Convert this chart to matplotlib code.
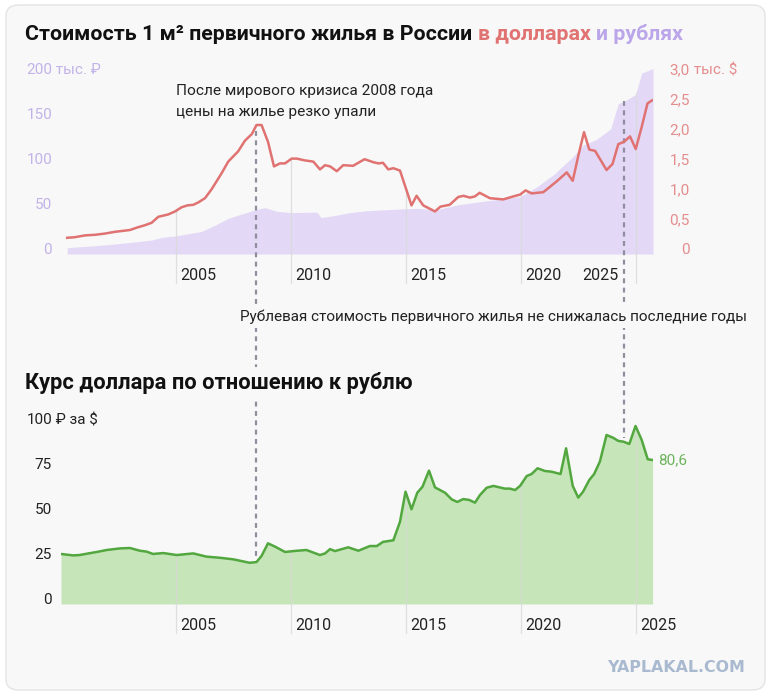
import matplotlib
matplotlib.use("Agg")
import matplotlib.pyplot as plt
import numpy as np
from matplotlib.patches import FancyBboxPatch
from matplotlib.lines import Line2D
from matplotlib.transforms import blended_transform_factory as blend

# ---------------- data ----------------
usd_years = [2000.27, 2000.6, 2001.04, 2001.48, 2001.9, 2002.35, 2003.0, 2003.3, 2003.65, 2003.94,
             2004.23, 2004.67, 2004.96, 2005.25, 2005.5, 2005.75, 2005.97, 2006.26, 2006.55, 2006.99,
             2007.27, 2007.7, 2008.0, 2008.3, 2008.5, 2008.72, 2009.0, 2009.26, 2009.52, 2009.74,
             2010.03, 2010.25, 2010.6, 2010.97, 2011.26, 2011.48, 2011.7, 2011.99, 2012.27, 2012.7,
             2013.2, 2013.58, 2013.8, 2014.0, 2014.23, 2014.45, 2014.74, 2015.24, 2015.46, 2015.75,
             2016.26, 2016.5, 2016.9, 2017.27, 2017.5, 2017.78, 2018.0, 2018.2, 2018.65, 2019.23,
             2019.67, 2019.96, 2020.2, 2020.46, 2020.97, 2021.55, 2021.99, 2022.25, 2022.5, 2022.74,
             2022.97, 2023.22, 2023.72, 2023.98, 2024.23, 2024.48, 2024.74, 2024.99, 2025.25, 2025.5,
             2025.7]
usd_price = [0.27, 0.28, 0.31, 0.32, 0.34, 0.37, 0.40, 0.44, 0.48, 0.52,
             0.62, 0.66, 0.71, 0.78, 0.81, 0.82, 0.86, 0.93, 1.08, 1.35,
             1.54, 1.71, 1.89, 2.00, 2.15, 2.15, 1.87, 1.46, 1.51, 1.51,
             1.59, 1.59, 1.56, 1.54, 1.41, 1.48, 1.46, 1.38, 1.48, 1.47,
             1.58, 1.53, 1.51, 1.52, 1.41, 1.43, 1.39, 0.81, 0.97, 0.81,
             0.71, 0.79, 0.82, 0.95, 0.97, 0.94, 0.96, 1.02, 0.93, 0.91,
             0.96, 0.99, 1.06, 1.01, 1.03, 1.21, 1.36, 1.22, 1.65, 2.03,
             1.74, 1.72, 1.40, 1.50, 1.83, 1.87, 1.96, 1.75, 2.12, 2.51,
             2.56]

rub_years = [2000.27, 2001.9, 2003.07, 2003.94, 2004.4, 2004.96, 2006.1, 2006.7, 2007.27, 2007.86,
             2008.58, 2008.87, 2009.38, 2010.0, 2011.0, 2011.13, 2011.3, 2011.85, 2012.57, 2013.29,
             2014.74, 2015.46, 2016.33, 2017.2, 2018.2, 2019.96, 2020.7, 2021.4, 2022.26, 2022.7,
             2023.27, 2023.9, 2024.23, 2024.5, 2024.98, 2025.25, 2025.74]
rub_price = [7, 10, 13, 15.5, 18.5, 20, 25, 32, 39.5, 44.5,
             50, 51.5, 47.5, 46, 46.5, 46.5, 40.5, 42.5, 46, 48,
             50, 50.7, 49, 54.4, 58, 63.7, 74.8, 87.8, 108, 121,
             127, 139, 167, 170, 177, 201, 206]

fx_years = [2000.0, 2000.53, 2000.8, 2001.55, 2001.99, 2002.57, 2003.0, 2003.43, 2003.72, 2004.0,
            2004.45, 2005.03, 2005.75, 2006.33, 2006.9, 2007.5, 2008.2, 2008.5, 2008.72, 2009.0,
            2009.3, 2009.45, 2009.74, 2010.1, 2010.67, 2011.26, 2011.48, 2011.7, 2011.91, 2012.49,
            2012.93, 2013.43, 2013.73, 2014.0, 2014.45, 2014.74, 2014.98, 2015.24, 2015.49, 2015.72,
            2016.0, 2016.26, 2016.7, 2016.99, 2017.23, 2017.49, 2017.75, 2018.0, 2018.22, 2018.51,
            2018.8, 2019.3, 2019.52, 2019.74, 2019.96, 2020.25, 2020.46, 2020.72, 2021.04, 2021.33,
            2021.72, 2021.96, 2022.25, 2022.49, 2022.7, 2022.97, 2023.18, 2023.43, 2023.72, 2024.0,
            2024.23, 2024.45, 2024.71, 2024.98, 2025.25, 2025.51, 2025.72]
fx_rate = [27.8, 27.0, 27.2, 28.9, 30.0, 30.9, 31.1, 29.6, 29.1, 27.8,
           28.3, 27.2, 28.1, 26.3, 25.7, 24.8, 22.9, 23.3, 26.7, 33.7,
           31.9, 30.9, 28.9, 29.4, 30.0, 27.2, 28.1, 30.5, 29.4, 31.5,
           29.6, 32.2, 32.2, 34.5, 35.4, 45.7, 62.4, 52.6, 61.8, 65.2,
           74.1, 64.8, 61.8, 58.1, 56.7, 58.3, 57.8, 56.3, 60.6, 64.6,
           65.6, 64.1, 64.1, 63.3, 65.6, 71.1, 72.2, 75.4, 73.9, 73.5,
           72.2, 86.5, 65.6, 59.1, 62.4, 68.9, 72.2, 79.1, 93.9, 92.4,
           90.6, 90.2, 88.9, 98.9, 91.1, 80.4, 80.0]

year_ticks = [2005, 2010, 2015, 2020, 2025]
usd_ticks = [0, 0.5, 1.0, 1.5, 2.0, 2.5, 3.0]
usd_tick_labels = ["0", "0,5", "1,0", "1,5", "2,0", "2,5", "3,0"]
rub_ticks = [0, 50, 100, 150, 200]
fx_ticks = [0, 25, 50, 75, 100]
last_rate_label = "80,6"
event_years = [2008.48, 2024.48]

# ---------------- style ----------------
W, H = 771, 695
BG = "#f8f8f8"
RED = "#e07272"
PURPLE_FILL = "#e3d8f6"
PURPLE_TXT = "#bba6ea"
PURPLE_TICK = "#c2b3e8"
RED_TICK = "#e58d8d"
GREEN = "#52a73f"
GREEN_FILL = "#c6e6ba"
GREEN_TXT = "#6db35b"
GRID = "#d9d9d9"
DASH = "#8e8e9c"
FONT = ["Roboto", "DejaVu Sans"]

plt.rcParams['font.family'] = FONT
fig = plt.figure(figsize=(W / 100, H / 100), dpi=100)
fig.patch.set_facecolor("white")
renderer = fig.canvas.get_renderer()


def fx(px):
    return px / W


def fy(py):
    return 1 - py / H


card = FancyBboxPatch((fx(6), fy(690)), fx(759), (689 - 4) / H,
                      boxstyle="round,pad=0,rounding_size=0.016",
                      transform=fig.transFigure, facecolor=BG, edgecolor="#e4e4e4",
                      linewidth=1.0, zorder=-5)
fig.patches.append(card)


def width_of(t):
    return t.get_window_extent(renderer=renderer).width


def fit(t, target):
    t.set_fontsize(t.get_fontsize() * target / width_of(t))
    return t


# ---------------- axes ----------------
XL = (2000.0, 2025.74)
ax1 = fig.add_axes([fx(61), fy(254), fx(653 - 61), (254 - 68) / H])
ax1r = ax1.twinx()
ax2 = fig.add_axes([fx(61), fy(604), fx(653 - 61), (604 - 420) / H])
for a in (ax1, ax1r, ax2):
    a.set_xlim(*XL)
    a.patch.set_visible(False)
    for s in a.spines.values():
        s.set_visible(False)
    a.set_xticks([])
    a.set_yticks([])
usd_top = (254 - 68) / 60
ax1.set_ylim(0, usd_top)
ax1r.set_ylim(0, usd_top * 200 / 3)
ax2.set_ylim(0, (604 - 420) / 1.8)

ax1r.set_zorder(1)
ax1.set_zorder(2)
ax2.set_zorder(1)
ax1r.fill_between(rub_years, rub_price, 0, color=PURPLE_FILL, linewidth=0, zorder=1)
ax1.plot(usd_years, usd_price, color=RED, lw=1.8, solid_joinstyle="round", zorder=5)

ax2.fill_between(fx_years, fx_rate, 0, color=GREEN_FILL, linewidth=0, zorder=1)
ax2.plot(fx_years, fx_rate, color=GREEN, lw=1.8, solid_joinstyle="round", zorder=5)

inv = fig.transFigure.inverted()


def data_to_fig_y(ax, x, y):
    return inv.transform(ax.transData.transform((x, y)))[1]


# vertical grid lines from data down to labels
for yr in year_ticks:
    top_usd = np.interp(yr, usd_years, usd_price)
    top_rub_in_usd = np.interp(yr, rub_years, rub_price) * 3 / 200
    ytop = data_to_fig_y(ax1, yr, max(top_usd, top_rub_in_usd))
    ax1.add_line(Line2D([yr, yr], [ytop, fy(283)], transform=blend(ax1.transData, fig.transFigure),
                        color=GRID, lw=0.9, alpha=0.8, clip_on=False, zorder=3))
    ytop2 = data_to_fig_y(ax2, yr, np.interp(yr, fx_years, fx_rate))
    ax2.add_line(Line2D([yr, yr], [ytop2, fy(633)], transform=blend(ax2.transData, fig.transFigure),
                        color=GRID, lw=0.9, alpha=0.8, clip_on=False, zorder=3))

# year labels
tick_fs = 11.5
for yr in year_ticks:
    ax2.annotate(str(yr), xy=(yr, fy(630)), xycoords=('data', 'figure fraction'),
                 xytext=(4, 0), textcoords='offset pixels', ha='left', va='baseline',
                 fontsize=tick_fs, color="#222222", annotation_clip=False)
    if yr == 2025:
        ax1.annotate(str(yr), xy=(event_years[1], fy(280)), xycoords=('data', 'figure fraction'),
                     xytext=(-6, 0), textcoords='offset pixels', ha='right', va='baseline',
                     fontsize=tick_fs, color="#222222", annotation_clip=False)
    else:
        ax1.annotate(str(yr), xy=(yr, fy(280)), xycoords=('data', 'figure fraction'),
                     xytext=(4, 0), textcoords='offset pixels', ha='left', va='baseline',
                     fontsize=tick_fs, color="#222222", annotation_clip=False)

# y tick labels
ylab_fs = 11.0
tl = blend(fig.transFigure, ax1r.transData)
for v in rub_ticks:
    ax1r.text(fx(52), v, str(v), transform=tl, ha='right', va='baseline',
              fontsize=ylab_fs, color=PURPLE_TICK, clip_on=False)
ax1r.text(fx(52), rub_ticks[-1], " тыс. ₽", transform=tl, ha='left', va='baseline',
          fontsize=ylab_fs, color=PURPLE_TICK, clip_on=False)
tr = blend(fig.transFigure, ax1.transData)
for v, s in zip(usd_ticks, usd_tick_labels):
    ax1.text(fx(690), v, s, transform=tr, ha='right', va='baseline',
             fontsize=ylab_fs, color=RED_TICK, clip_on=False)
ax1.text(fx(690), usd_ticks[-1], " тыс. $", transform=tr, ha='left', va='baseline',
         fontsize=ylab_fs, color=RED_TICK, clip_on=False)
tb = blend(fig.transFigure, ax2.transData)
for v in fx_ticks:
    ax2.text(fx(52), v, str(v), transform=tb, ha='right', va='baseline',
             fontsize=ylab_fs, color="#222222", clip_on=False)
ax2.text(fx(52), fx_ticks[-1], " ₽ за $", transform=tb, ha='left', va='baseline',
         fontsize=ylab_fs, color="#222222", clip_on=False)

# end label
ax2.annotate(last_rate_label, xy=(fx_years[-1], fx_rate[-1]), xytext=(6, 0),
             textcoords='offset pixels', ha='left', va='center', fontsize=ylab_fs,
             color=GREEN_TXT, annotation_clip=False)

# dashed event lines
dash_kw = dict(color=DASH, lw=1.6, linestyle=(0, (2.2, 2.0)), clip_on=False, zorder=4)
ax1.add_line(Line2D([event_years[0]] * 2, [fy(131), fy(557)],
                    transform=blend(ax1.transData, fig.transFigure), **dash_kw))
ytop_r = data_to_fig_y(ax1r, event_years[1], np.interp(event_years[1], rub_years, rub_price))
ax1.add_line(Line2D([event_years[1]] * 2, [ytop_r, fy(438)],
                    transform=blend(ax1.transData, fig.transFigure), **dash_kw))

# ---------------- texts ----------------
mask = dict(facecolor=BG, edgecolor='none', pad=3)
t1 = fig.text(fx(25), fy(40), "Стоимость 1 м² первичного жилья в России в долларах и рублях",
              fontsize=14, fontweight='bold', va='baseline', ha='left')
fit(t1, 663)
fs_title = t1.get_fontsize()
t1.remove()
parts = [("Стоимость 1 м² первичного жилья в России", "#111111"),
         ("в долларах", RED), ("и рублях", PURPLE_TXT)]
tmp = fig.text(0, 0, "a a", fontsize=fs_title, fontweight='bold')
tmp2 = fig.text(0, 0, "aa", fontsize=fs_title, fontweight='bold')
space = width_of(tmp) - width_of(tmp2)
tmp.remove(); tmp2.remove()
xp = 25
for s, c in parts:
    t = fig.text(fx(xp), fy(40), s, fontsize=fs_title, fontweight='bold', color=c,
                 va='baseline', ha='left', zorder=10)
    xp += width_of(t) + space

t2 = fig.text(fx(25), fy(389), "Курс доллара по отношению к рублю", fontsize=14,
              fontweight='bold', color="#111111", va='baseline', ha='left', zorder=10,
              bbox=mask)
fit(t2, 388)

a1 = fig.text(fx(176), fy(95), "После мирового кризиса 2008 года", fontsize=11,
              color="#222222", va='baseline', ha='left', zorder=10)
fit(a1, 257)
fig.text(fx(176), fy(116), "цены на жилье резко упали", fontsize=a1.get_fontsize(),
         color="#222222", va='baseline', ha='left', zorder=10)

a2 = fig.text(fx(240), fy(321), "Рублевая стоимость первичного жилья не снижалась последние годы",
              fontsize=11, color="#222222", va='baseline', ha='left', zorder=10, bbox=mask)
fit(a2, 506)

wm = fig.text(fx(745), fy(672), "YAPLAKAL.COM", fontsize=11, fontweight='heavy',
              family=["DejaVu Sans"], color="#a9bad0", va='baseline', ha='right', zorder=10)
fit(wm, 137)

fig.savefig("out.png", dpi=100, facecolor="white")
